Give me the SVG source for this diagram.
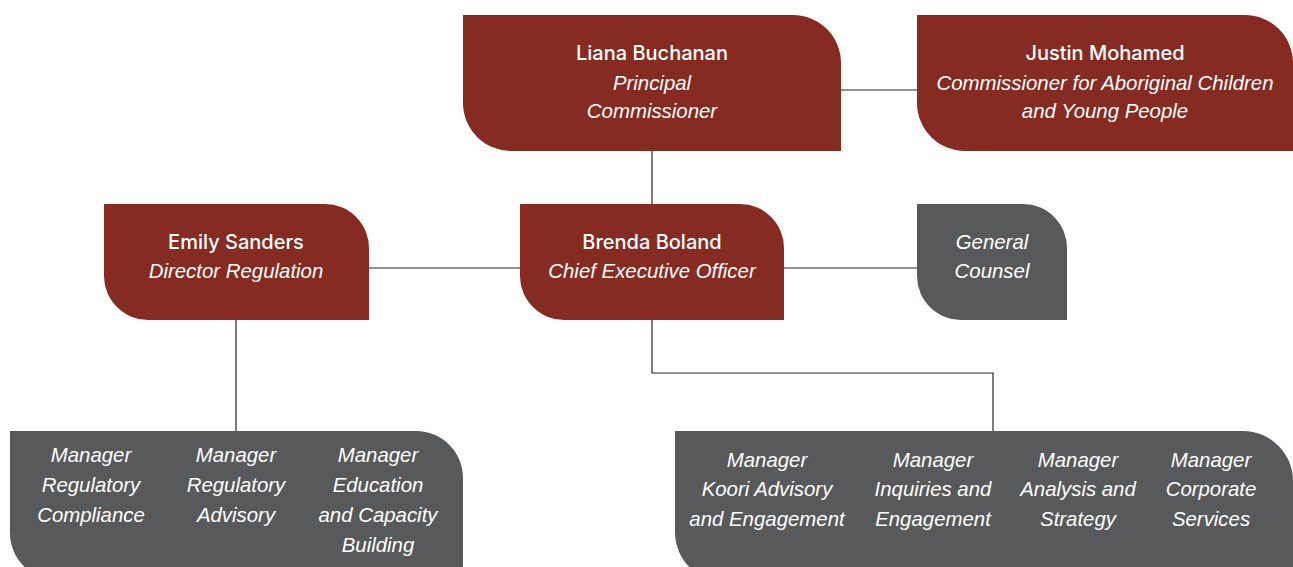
<svg xmlns="http://www.w3.org/2000/svg" width="1293" height="567" viewBox="0 0 1293 567">
  <style>
    .red { fill: #852b22; }
    .grey { fill: #58595b; }
    .link { fill: none; stroke: #262626; stroke-width: 1.2; }
    text { font-family: "Liberation Sans", Arial, sans-serif; font-size: 20.4px; fill: #ffffff; text-anchor: middle; }
    .name { font-family: Inter, "Liberation Sans", sans-serif; font-weight: 500; font-size: 20px; }
    .role { font-style: italic; }
  </style>

  <!-- connectors -->
  <g id="connectors">
    <path class="link" d="M652,151 V204"/>
    <path class="link" d="M841,90 H917"/>
    <path class="link" d="M369,268 H520"/>
    <path class="link" d="M784,268 H917"/>
    <path class="link" d="M236,320 V431"/>
    <path class="link" d="M652,320 V373 H993 V431"/>
  </g>

  <!-- leaf-shaped boxes: rounded top-right and bottom-left corners -->
  <g id="liana-buchanan">
    <path class="red" d="M463,15 H793 A48,48 0 0 1 841,63 V151 H511 A48,48 0 0 1 463,103 Z"/>
    <text class="name" x="652" y="60">Liana Buchanan</text>
    <text class="role" x="652" y="90">Principal</text>
    <text class="role" x="652" y="118">Commissioner</text>
  </g>

  <g id="justin-mohamed">
    <path class="red" d="M917,15 H1245 A48,48 0 0 1 1293,63 V151 H965 A48,48 0 0 1 917,103 Z"/>
    <text class="name" x="1105" y="60">Justin Mohamed</text>
    <text class="role" x="1105" y="90">Commissioner for Aboriginal Children</text>
    <text class="role" x="1105" y="118">and Young People</text>
  </g>

  <g id="emily-sanders">
    <path class="red" d="M104,204 H325 A44,44 0 0 1 369,248 V320 H148 A44,44 0 0 1 104,276 Z"/>
    <text class="name" x="236" y="249">Emily Sanders</text>
    <text class="role" x="236" y="278">Director Regulation</text>
  </g>

  <g id="brenda-boland">
    <path class="red" d="M520,204 H740 A44,44 0 0 1 784,248 V320 H564 A44,44 0 0 1 520,276 Z"/>
    <text class="name" x="652" y="249">Brenda Boland</text>
    <text class="role" x="652" y="278">Chief Executive Officer</text>
  </g>

  <g id="general-counsel">
    <path class="grey" d="M917,204 H1023 A44,44 0 0 1 1067,248 V320 H961 A44,44 0 0 1 917,276 Z"/>
    <text class="role" x="992" y="249">General</text>
    <text class="role" x="992" y="278">Counsel</text>
  </g>

  <g id="regulation-managers">
    <path class="grey" d="M10,431 H416 A47,47 0 0 1 463,478 V580 H57 A47,47 0 0 1 10,533 Z"/>
    <text class="role" x="91" y="462">Manager</text>
    <text class="role" x="91" y="492">Regulatory</text>
    <text class="role" x="91" y="522">Compliance</text>
    <text class="role" x="236" y="462">Manager</text>
    <text class="role" x="236" y="492">Regulatory</text>
    <text class="role" x="236" y="522">Advisory</text>
    <text class="role" x="378" y="462">Manager</text>
    <text class="role" x="378" y="492">Education</text>
    <text class="role" x="378" y="522">and Capacity</text>
    <text class="role" x="378" y="552">Building</text>
  </g>

  <g id="ceo-managers">
    <path class="grey" d="M675,431 H1243 A50,50 0 0 1 1293,481 V582 H725 A50,50 0 0 1 675,532 Z"/>
    <text class="role" x="767" y="467">Manager</text>
    <text class="role" x="767" y="496">Koori Advisory</text>
    <text class="role" x="767" y="526">and Engagement</text>
    <text class="role" x="933" y="467">Manager</text>
    <text class="role" x="933" y="496">Inquiries and</text>
    <text class="role" x="933" y="526">Engagement</text>
    <text class="role" x="1078" y="467">Manager</text>
    <text class="role" x="1078" y="496">Analysis and</text>
    <text class="role" x="1078" y="526">Strategy</text>
    <text class="role" x="1211" y="467">Manager</text>
    <text class="role" x="1211" y="496">Corporate</text>
    <text class="role" x="1211" y="526">Services</text>
  </g>
</svg>
